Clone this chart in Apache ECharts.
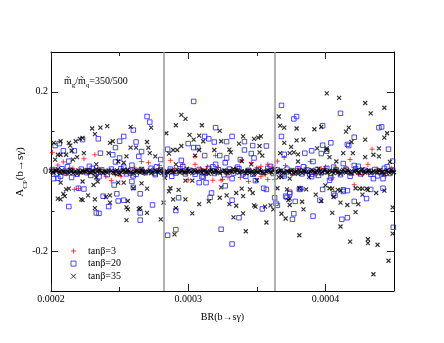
<!DOCTYPE html>
<html>
<head>
<meta charset="utf-8">
<script src="https://cdn.jsdelivr.net/npm/echarts@6/dist/echarts.min.js"></script>
<style>
  html, body { margin: 0; padding: 0; background: #fff; }
  #chart { width: 444px; height: 343px; }
</style>
</head>
<body>
<div id="chart"></div>
<script>
// BR(b->s gamma) is kept in units of 1e-4, A_CP as is
var xMajor = [2, 3, 4];
var xMinor = [2.5, 3.5];
var yMajor = [-0.2, 0, 0.2];
var yMinor = [-0.1, 0.1];
var brBounds = [2.82, 3.63];
var seriesNames = ['tanβ=3', 'tanβ=20', 'tanβ=35'];

var tan3Spread = [
  [2.24,0.032],[2.32,0.042],[2.01,0.048],[2.09,0.024],[2.71,0.022],[2.66,0.025],[2.79,0.015],[2.05,0.016],
  [3.20,0.040],[2.87,0.028],[3.46,0.022],[3.53,0.013],[3.58,0.018],[3.05,0.018],[3.14,0.012],[3.65,0.026],
  [4.34,0.056],[3.70,0.035],[4.18,0.030],[4.31,0.018],[3.71,0.015],[3.89,0.025],[4.00,0.012],[4.07,0.011],
  [2.44,-0.023],[2.20,-0.043],[2.17,-0.045],[2.51,-0.012],[2.40,-0.012],
  [3.18,-0.022],[3.24,-0.022],[3.44,-0.025],[3.58,-0.020],[3.38,-0.015],[3.00,-0.021],[3.53,-0.013],
  [4.21,-0.033],[3.83,-0.045],[4.05,-0.016],
  [3.05,0.038],[3.39,0.028],[2.96,0.018],[3.25,-0.020],[3.29,-0.014],[3.63,-0.020],[4.44,-0.010],[4.27,-0.008]
];
var tan3Band = [
  [2.03,0.004],[2.11,-0.006],[2.16,0.008],[2.27,-0.003],[2.35,0.006],[2.47,-0.008],[2.55,0.003],[2.61,0.009],
  [2.68,-0.005],[2.74,0.005],[2.83,-0.007],[2.90,0.006],[2.99,-0.004],[3.09,0.007],[3.12,-0.009],[3.22,0.010],
  [3.28,-0.006],[3.34,0.008],[3.42,-0.003],[3.50,0.009],[3.56,-0.008],[3.61,0.011],[3.76,-0.006],[3.80,0.008],
  [3.93,-0.009],[3.97,0.007],[4.10,-0.005],[4.15,0.009],[4.24,-0.007],[4.38,0.006],[4.41,-0.004],[4.48,0.008],
  [2.58,-0.010],[3.86,0.010],[3.16,0.004]
];

var tan20Spread = [
  [2.70,0.138],[2.72,0.124],[2.60,0.104],[2.345,0.082],[2.53,0.088],[2.50,0.076],[2.47,0.060],[2.62,0.074],
  [2.03,0.065],[2.06,0.070],[2.09,0.052],[2.17,0.052],[2.23,0.080],[2.36,0.046],[2.45,0.042],[2.50,0.034],
  [2.64,0.038],[2.66,0.050],[2.80,0.030],[2.13,0.026],[2.47,0.024],[2.59,0.016],
  [3.04,0.176],[3.20,0.110],[3.12,0.088],[3.15,0.082],[3.32,0.088],[3.28,0.075],[3.19,0.074],[3.41,0.075],
  [3.47,0.065],[3.57,0.064],[3.00,0.070],[3.04,0.060],[3.07,0.060],[2.85,0.056],[3.12,0.040],[3.23,0.040],
  [3.28,0.034],[3.41,0.054],[3.46,0.045],[3.48,0.034],[2.95,0.028],[3.20,0.018],[3.27,0.022],[3.38,0.030],
  [3.68,0.166],[3.79,0.138],[3.77,0.132],[4.11,0.146],[3.98,0.066],[3.98,0.115],[4.39,0.110],[4.41,0.112],
  [4.21,0.086],[4.16,0.068],[4.17,0.065],[4.04,0.072],[3.68,0.088],[3.90,0.052],[3.85,0.046],[3.97,0.045],
  [3.70,0.043],[3.91,0.025],[4.13,0.020],[4.21,0.015],[4.49,0.026],[4.46,0.056],[4.01,0.051],
  [2.05,-0.017],[2.02,-0.018],[2.15,-0.015],[2.29,-0.010],[2.46,-0.034],[2.59,-0.025],[2.60,-0.040],[2.20,-0.042],
  [2.24,-0.044],[2.38,-0.062],[2.48,-0.056],[2.65,-0.056],[2.49,-0.074],[2.53,-0.072],[2.74,-0.084],[2.13,-0.088],
  [2.42,-0.088],[2.33,-0.104],[2.35,-0.105],[2.65,-0.104],[2.65,-0.122],[2.76,-0.008],
  [2.85,-0.160],[2.91,-0.146],[3.24,-0.145],[3.32,-0.182],[2.93,-0.066],[2.91,-0.098],[3.08,-0.028],[3.13,-0.028],
  [3.17,-0.054],[3.16,-0.065],[3.27,-0.036],[3.32,-0.072],[3.37,-0.116],[3.55,-0.042],[3.57,-0.045],[3.54,-0.094],
  [3.63,-0.066],[3.64,-0.080],[3.49,-0.023],[3.32,-0.018],[3.11,-0.014],
  [3.81,-0.045],[3.82,-0.043],[3.74,-0.052],[3.74,-0.056],[3.71,-0.062],[3.72,-0.065],[3.78,-0.075],[3.65,-0.085],
  [3.77,-0.106],[3.76,-0.120],[3.91,-0.112],[3.98,-0.045],[3.96,-0.072],[4.07,-0.060],[4.06,-0.056],[4.13,-0.050],
  [4.13,-0.046],[4.16,-0.048],[4.21,-0.075],[4.30,-0.068],[4.33,-0.045],[4.42,-0.042],[4.12,-0.120],[4.16,-0.116],
  [4.495,-0.140],[4.03,-0.022],[4.04,-0.016],[4.35,-0.018],[4.42,-0.018],[3.95,-0.010]
];
var tan20Band = [
  [2.01,0.005],[2.04,-0.006],[2.08,0.007],[2.11,-0.004],[2.14,0.003],[2.19,-0.007],[2.22,0.006],[2.26,-0.003],
  [2.30,0.008],[2.33,-0.005],[2.37,0.004],[2.41,-0.008],[2.44,0.006],[2.48,-0.004],[2.51,0.007],[2.55,-0.006],
  [2.58,0.003],[2.62,-0.007],[2.66,0.005],[2.69,-0.003],[2.73,0.008],[2.76,-0.005],[2.80,0.004],[2.83,-0.008],
  [2.87,0.006],[2.91,-0.004],[2.94,0.007],[2.98,-0.006],[3.01,0.003],[3.05,-0.007],[3.08,0.005],[3.12,-0.003],
  [3.15,0.008],[3.19,-0.005],[3.22,0.004],[3.26,-0.008],[3.30,0.006],[3.33,-0.004],[3.37,0.007],[3.40,-0.006],
  [3.44,0.003],[3.47,-0.007],[3.51,0.005],[3.55,-0.003],[3.58,0.008],[3.62,-0.005],[3.65,0.004],[3.69,-0.008],
  [3.72,0.006],[3.76,-0.004],[3.80,0.007],[3.83,-0.006],[3.87,0.003],[3.90,-0.007],[3.94,0.005],[3.97,-0.003],
  [4.01,0.008],[4.04,-0.005],[4.08,0.004],[4.11,-0.008],[4.15,0.006],[4.19,-0.004],[4.22,0.007],[4.26,-0.006],
  [4.29,0.003],[4.33,-0.007],[4.36,0.005],[4.40,-0.003],[4.43,0.008],[4.47,-0.005],[4.49,0.004],
  [2.12,0.012],[2.28,0.013],[2.53,0.011],[2.77,0.012],[2.96,0.013],[3.18,0.012],[3.36,0.011],[3.60,0.013],
  [3.84,0.012],[4.06,0.011],[4.24,0.013],[4.45,0.012],[2.07,-0.012],[2.35,-0.013],[2.60,-0.011],[2.88,-0.012],
  [3.10,-0.013],[3.42,-0.012],[3.70,-0.011],[3.90,-0.013],[4.18,-0.012],[4.38,-0.011]
];

var tan35Spread = [
  [2.30,0.108],[2.36,0.110],[2.41,0.114],[2.58,0.112],[2.73,0.110],[2.32,0.094],[2.07,0.076],[2.02,0.072],
  [2.13,0.072],[2.14,0.065],[2.18,0.076],[2.21,0.082],[2.23,0.084],[2.43,0.072],[2.45,0.076],[2.58,0.060],
  [2.62,0.060],[2.70,0.074],[2.71,0.060],[2.05,0.042],[2.07,0.042],[2.11,0.042],[2.15,0.052],[2.19,0.036],
  [2.24,0.046],[2.42,0.046],[2.55,0.038],[2.72,0.046],[2.76,0.038],[2.03,0.030],[2.16,0.030],[2.49,0.025],
  [2.53,0.022],[2.33,0.018],
  [2.95,0.142],[2.98,0.132],[2.91,0.116],[2.84,0.096],[3.01,0.092],[3.08,0.090],[3.10,0.116],[3.23,0.102],
  [3.40,0.088],[3.53,0.088],[3.51,0.085],[3.48,0.082],[3.04,0.080],[3.11,0.076],[3.24,0.076],[3.37,0.070],
  [3.52,0.064],[2.95,0.064],[2.89,0.054],[2.92,0.054],[3.19,0.054],[3.30,0.055],[3.08,0.054],[3.31,0.048],
  [3.52,0.048],[3.54,0.040],[2.86,0.045],[3.05,0.040],[3.39,0.026],[3.46,0.018],[2.91,0.018],
  [4.01,0.196],[4.10,0.185],[4.29,0.172],[4.43,0.160],[4.33,0.146],[3.66,0.138],[3.67,0.115],[3.70,0.110],
  [3.79,0.108],[3.92,0.106],[3.97,0.112],[4.17,0.110],[4.15,0.100],[4.43,0.085],[4.45,0.096],[4.29,0.080],
  [3.84,0.080],[3.79,0.078],[3.70,0.072],[3.75,0.062],[3.94,0.058],[4.01,0.058],[4.01,0.054],[4.03,0.036],
  [4.13,0.046],[4.19,0.074],[4.20,0.046],[4.39,0.058],[4.35,0.042],[4.39,0.038],[4.29,0.036],[3.74,0.046],
  [3.77,0.048],[3.80,0.043],[3.67,0.046],[4.08,0.025],[3.80,0.025],[4.47,0.024],
  [2.07,-0.028],[2.23,-0.025],[2.34,-0.025],[2.49,-0.028],[2.31,-0.034],[2.53,-0.028],[2.66,-0.030],[2.70,-0.043],
  [2.60,-0.042],[2.11,-0.045],[2.13,-0.043],[2.09,-0.056],[2.10,-0.062],[2.05,-0.068],[2.07,-0.070],[2.27,-0.060],
  [2.32,-0.070],[2.56,-0.074],[2.22,-0.070],[2.23,-0.072],[2.40,-0.064],[2.43,-0.060],[2.32,-0.092],[2.43,-0.078],
  [2.55,-0.090],[2.56,-0.095],[2.64,-0.094],[2.70,-0.104],[2.55,-0.122],[2.80,-0.120],[2.65,-0.092],[2.33,-0.015],
  [2.90,-0.158],[3.42,-0.150],[3.33,-0.115],[3.40,-0.105],[3.57,-0.128],[2.82,-0.078],[2.89,-0.070],[2.98,-0.070],
  [2.91,-0.092],[3.03,-0.105],[3.08,-0.082],[3.15,-0.075],[3.23,-0.066],[3.28,-0.060],[3.35,-0.086],[3.30,-0.082],
  [3.35,-0.054],[3.40,-0.062],[3.39,-0.043],[3.45,-0.045],[3.47,-0.054],[3.48,-0.085],[3.49,-0.088],[3.56,-0.088],
  [3.60,-0.085],[3.62,-0.095],[3.24,-0.040],[2.86,-0.050],[2.87,-0.042],[2.93,-0.046],[2.83,-0.016],[2.98,-0.023],
  [3.03,-0.023],[3.50,-0.022],
  [3.72,-0.045],[3.74,-0.068],[3.73,-0.072],[3.81,-0.042],[3.86,-0.045],[3.83,-0.076],[3.84,-0.095],[3.74,-0.084],
  [3.68,-0.106],[3.71,-0.118],[3.65,-0.042],[3.93,-0.058],[4.00,-0.035],[4.03,-0.042],[4.05,-0.043],[4.09,-0.046],
  [4.11,-0.048],[4.06,-0.064],[3.97,-0.074],[4.11,-0.078],[4.16,-0.084],[4.24,-0.082],[4.22,-0.102],[4.05,-0.104],
  [4.11,-0.138],[4.22,-0.042],[4.25,-0.043],[4.27,-0.043],[4.30,-0.043],[4.31,-0.046],[4.27,-0.058],[4.37,-0.054],
  [4.43,-0.048],[4.49,-0.090],[4.49,-0.156],[3.81,-0.160],[4.18,-0.176],[4.31,-0.170],[4.31,-0.180],[4.38,-0.184],
  [4.46,-0.224],[4.35,-0.258],[3.74,-0.018],[3.68,-0.014],[3.66,-0.014],[3.88,-0.014]
];
var tan35Band = [
  [2.00,0.002],[2.02,-0.003],[2.04,0.001],[2.06,-0.001],[2.08,0.003],[2.10,-0.002],[2.12,0.000],[2.14,0.004],
  [2.16,-0.004],[2.18,0.001],[2.21,-0.002],[2.23,0.002],[2.25,-0.001],[2.27,0.003],[2.29,-0.003],[2.31,0.001],
  [2.34,-0.001],[2.36,0.002],[2.38,-0.004],[2.40,0.000],[2.42,0.003],[2.45,-0.002],[2.47,0.001],[2.49,-0.003],
  [2.52,0.002],[2.54,-0.001],[2.56,0.004],[2.58,-0.002],[2.61,0.000],[2.63,0.002],[2.65,-0.003],[2.67,0.001],
  [2.69,-0.001],[2.72,0.003],[2.74,-0.002],[2.77,0.000],[2.79,0.002],[2.81,-0.004],[2.84,0.001],[2.86,-0.001],
  [2.88,0.003],[2.90,-0.002],[2.93,0.000],[2.95,0.002],[2.97,-0.003],[3.00,0.001],[3.02,-0.001],[3.04,0.004],
  [3.06,-0.002],[3.09,0.000],[3.11,0.002],[3.13,-0.003],[3.16,0.001],[3.18,-0.001],[3.20,0.003],[3.22,-0.002],
  [3.25,0.000],[3.27,0.002],[3.29,-0.004],[3.31,0.001],[3.34,-0.001],[3.36,0.003],[3.38,-0.002],[3.41,0.000],
  [3.43,0.002],[3.45,-0.003],[3.47,0.001],[3.50,-0.001],[3.52,0.004],[3.54,-0.002],[3.57,0.000],[3.59,0.002],
  [3.61,-0.003],[3.64,0.001],[3.66,-0.001],[3.68,0.003],[3.70,-0.002],[3.73,0.000],[3.75,0.002],[3.77,-0.004],
  [3.79,0.001],[3.82,-0.001],[3.84,0.003],[3.86,-0.002],[3.89,0.000],[3.91,0.002],[3.93,-0.003],[3.96,0.001],
  [3.98,-0.001],[4.00,0.004],[4.02,-0.002],[4.05,0.000],[4.07,0.002],[4.09,-0.003],[4.12,0.001],[4.14,-0.001],
  [4.16,0.003],[4.18,-0.002],[4.21,0.000],[4.23,0.002],[4.25,-0.004],[4.28,0.001],[4.30,-0.001],[4.32,0.003],
  [4.34,-0.002],[4.37,0.000],[4.39,0.002],[4.41,-0.003],[4.44,0.001],[4.46,-0.001],[4.48,0.003],[4.50,-0.002],
  [2.05,0.006],[2.19,-0.006],[2.33,0.006],[2.50,-0.007],[2.66,0.006],[2.83,-0.006],[2.99,0.007],[3.15,-0.006],
  [3.33,0.006],[3.48,-0.007],[3.63,0.006],[3.80,-0.006],[3.95,0.007],[4.11,-0.006],[4.27,0.006],[4.43,-0.007],
  [2.01,-0.001],[2.03,0.003],[2.07,-0.004],[2.09,0.000],[2.13,-0.003],[2.15,0.002],[2.17,-0.001],[2.20,0.003],
  [2.22,-0.003],[2.24,0.000],[2.26,0.004],[2.28,-0.002],[2.30,0.002],[2.32,-0.004],[2.35,0.003],[2.37,-0.002],
  [2.39,0.001],[2.41,-0.003],[2.44,0.002],[2.46,-0.004],[2.48,0.003],[2.51,-0.001],[2.53,0.004],[2.55,-0.003],
  [2.57,0.001],[2.60,-0.004],[2.62,0.003],[2.64,-0.001],[2.66,0.002],[2.68,-0.003],[2.71,0.000],[2.73,-0.004],
  [2.76,0.003],[2.78,-0.002],[2.80,0.004],[2.82,0.001],[2.85,-0.003],[2.87,0.002],[2.89,-0.001],[2.92,0.004],
  [2.94,-0.003],[2.96,0.001],[2.98,-0.002],[3.01,0.003],[3.03,-0.004],[3.05,0.002],[3.07,0.000],[3.10,-0.003],
  [3.12,0.003],[3.14,-0.002],[3.17,0.004],[3.19,-0.003],[3.21,0.001],[3.23,-0.004],[3.26,0.003],[3.28,-0.002],
  [3.30,0.002],[3.32,-0.001],[3.35,0.004],[3.37,-0.003],[3.39,0.001],[3.42,-0.004],[3.44,0.003],[3.46,-0.001],
  [3.49,0.002],[3.51,-0.003],[3.53,0.001],[3.55,-0.004],[3.58,0.003],[3.60,-0.001],[3.62,0.004],[3.65,-0.003],
  [3.67,0.002],[3.69,-0.004],[3.72,0.001],[3.74,-0.003],[3.76,0.004],[3.78,-0.002],[3.81,0.003],[3.83,-0.004],
  [3.85,0.000],[3.88,-0.003],[3.90,0.004],[3.92,-0.002],[3.94,0.001],[3.97,-0.004],[3.99,0.003],[4.01,-0.003],
  [4.03,0.002],[4.06,-0.004],[4.08,0.003],[4.10,-0.001],[4.13,0.004],[4.15,-0.003],[4.17,0.001],[4.19,-0.004],
  [4.22,0.003],[4.24,-0.002],[4.26,0.004],[4.29,-0.003],[4.31,0.002],[4.33,-0.004],[4.35,0.001],[4.38,-0.003],
  [4.40,0.004],[4.42,-0.001],[4.45,0.003],[4.47,-0.004],[4.49,0.001]
];

var serif = 'Liberation Serif';
var plusPath = 'path://M5,0L5,10M0,5L10,5';
var crossPath = 'path://M0,0L10,10M10,0L0,10';

var chartDom = document.getElementById('chart');
var myChart = echarts.init(chartDom);

function tickAxis(pos, values, len, withLine) {
  return {
    type: 'value', position: pos, min: 2, max: 4.5,
    axisLine: { show: withLine, onZero: false, lineStyle: { color: '#000', width: 1 } },
    axisTick: { show: true, inside: true, length: len, customValues: values, lineStyle: { color: '#222' } },
    axisLabel: { show: false },
    splitLine: { show: false }
  };
}
function tickYAxis(pos, values, len, withLine) {
  return {
    type: 'value', position: pos, min: -0.3, max: 0.3,
    axisLine: { show: withLine, onZero: false, lineStyle: { color: '#000', width: 1 } },
    axisTick: { show: true, inside: true, length: len, customValues: values, lineStyle: { color: '#222' } },
    axisLabel: { show: false },
    splitLine: { show: false }
  };
}

var xMain = tickAxis('bottom', xMajor, 7, true);
xMain.axisLabel = {
  show: true, customValues: xMajor, margin: 3,
  fontFamily: serif, fontSize: 10, color: '#000',
  formatter: function (v) { return (v / 10000).toFixed(4); }
};
xMain.name = 'BR(b→sγ)';
xMain.nameLocation = 'middle';
xMain.nameGap = 21;
xMain.nameTextStyle = { fontFamily: serif, fontSize: 10, color: '#000' };

var yMain = tickYAxis('left', yMajor, 7, true);
yMain.axisLabel = {
  show: true, customValues: yMajor, margin: 3,
  fontFamily: serif, fontSize: 10, color: '#000',
  formatter: function (v) { return v === 0 ? '0' : String(v); }
};

var option = {
  animation: false,
  backgroundColor: '#fff',
  grid: { left: 51, right: 50, top: 52, bottom: 52 },
  xAxis: [
    xMain,
    tickAxis('bottom', xMinor, 4, false),
    tickAxis('top', xMajor, 7, true),
    tickAxis('top', xMinor, 4, false)
  ],
  yAxis: [
    yMain,
    tickYAxis('left', yMinor, 3.5, false),
    tickYAxis('right', yMajor, 7, true),
    tickYAxis('right', yMinor, 3.5, false)
  ],
  legend: {
    orient: 'vertical', left: 65.5, top: 240,
    itemWidth: 5, itemHeight: 5, itemGap: 0.6,
    itemStyle: { borderWidth: 1 },
    textStyle: { fontFamily: serif, fontSize: 10, color: '#000', lineHeight: 12, padding: [0, 0, 0, 7] },
    data: seriesNames
  },
  graphic: [
    {
      type: 'text', x: 64, y: 76,
      style: {
        text: '{m|m\u0303}{s|g}{m|/m\u0303}{s|q}{m|=350/500}',
        rich: {
          m: { fontFamily: serif, fontSize: 10, fill: '#000', lineHeight: 13, verticalAlign: 'top' },
          s: { fontFamily: serif, fontSize: 7, fill: '#000', lineHeight: 13, verticalAlign: 'bottom' }
        }
      }
    },
    {
      type: 'text', x: 22, y: 172, rotation: Math.PI / 2,
      style: {
        text: '{a|A}{s|CP}{a|(b→sγ)}',
        align: 'center', verticalAlign: 'middle',
        rich: {
          a: { fontFamily: serif, fontSize: 11, fill: '#000', lineHeight: 14, verticalAlign: 'top' },
          s: { fontFamily: serif, fontSize: 7, fill: '#000', lineHeight: 14, verticalAlign: 'bottom' }
        }
      }
    }
  ],
  series: [
    {
      name: seriesNames[0], type: 'scatter',
      symbol: plusPath, symbolSize: 5,
      itemStyle: { color: 'transparent', borderColor: '#ff1010', borderWidth: 1 },
      data: tan3Spread.concat(tan3Band),
      markLine: {
        silent: true, symbol: ['none', 'none'],
        label: { show: false },
        lineStyle: { color: '#999', width: 1.5, type: 'solid' },
        data: brBounds.map(function (b) { return { xAxis: b }; })
      }
    },
    {
      name: seriesNames[1], type: 'scatter',
      symbol: 'rect', symbolSize: 4.5,
      itemStyle: { color: 'transparent', borderColor: '#2020ff', borderWidth: 1 },
      data: tan20Spread.concat(tan20Band)
    },
    {
      name: seriesNames[2], type: 'scatter',
      symbol: crossPath, symbolSize: 4,
      itemStyle: { color: 'transparent', borderColor: '#000', borderWidth: 1.2 },
      data: tan35Spread.concat(tan35Band)
    }
  ]
};

myChart.setOption(option);

window.onresize = function () {
  myChart.resize();
};
</script>
</body>
</html>
